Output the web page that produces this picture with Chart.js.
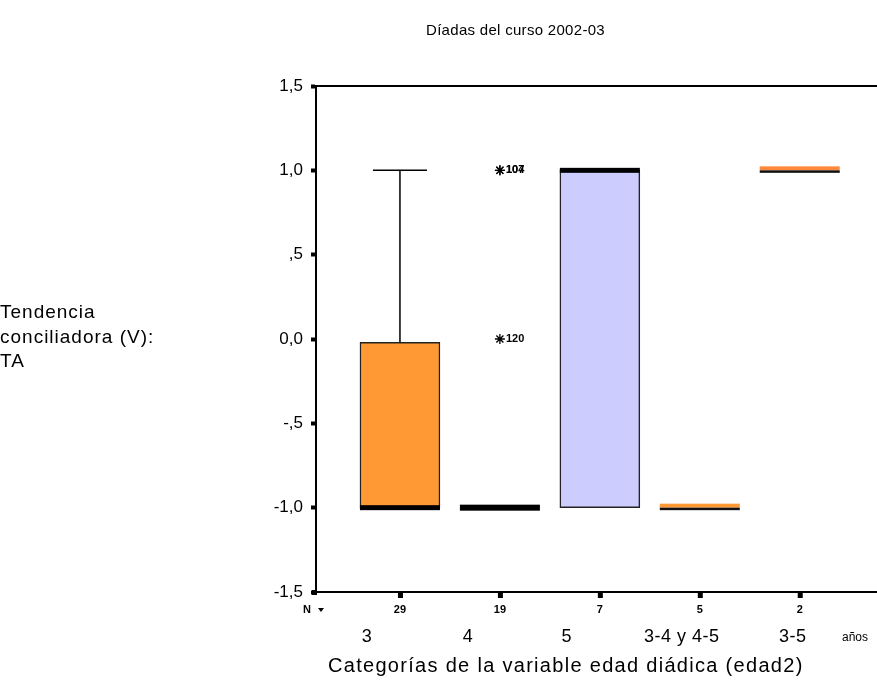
<!DOCTYPE html>
<html>
<head>
<meta charset="utf-8">
<script src="https://cdn.jsdelivr.net/npm/chart.js@4/dist/chart.umd.min.js"></script>
<style>
  html, body { margin: 0; padding: 0; background: #ffffff; }
  #wrap { width: 877px; height: 689px; }
</style>
</head>
<body>
<div id="wrap"><canvas id="chart" width="877" height="689"></canvas></div>
<script>
// Age-dyad groups (edad2) and their sample sizes
const groups = ['3', '4', '5', '3-4 y 4-5', '3-5'];
const groupN = [29, 19, 7, 5, 2];

// Box-plot summaries of "Tendencia conciliadora (V): TA" per group
const q1 = [-1, -1, -1, -1, 1];
const q3 = [-0.02, -1, 1, -1, 1];
const medians = [-1, -1, 1, -1, 1];
const whiskerLow = [-1, -1, -1, -1, 1];
const whiskerHigh = [1, -1, 1, -1, 1];

// Extreme cases (group number, value, case id)
const outlierGroup = [2, 2, 2];
const outlierValue = [1, 1, 0];
const outlierCase = ['104', '107', '120'];

// Y axis ticks and their printed labels
const yTicks = [-1.5, -1, -0.5, 0, 0.5, 1, 1.5];
const yTickLabels = ['-1,5', '-1,0', '-,5', '0,0', ',5', '1,0', '1,5'];

// Styling
const boxFill = ['#ff9933', '#ff9933', '#ccccff', '#ff9933', '#ff8a3d'];
const thinMedian = [false, false, false, true, true];
const medianThick = [5, 6, 5, 2.5, 2.5];
const labelShift = [-33, -32, -33, -18, -7];
const BOX_W = 80;
const CAP_HALF = 27;
const FONT = "'Liberation Sans', Arial, sans-serif";

function setSpacing(ctx, px) {
  if ('letterSpacing' in ctx) ctx.letterSpacing = px + 'px';
}

const boxPlotExtras = {
  id: 'boxPlotExtras',
  afterDatasetsDraw(chart) {
    const { ctx, scales: { x, y } } = chart;
    ctx.save();
    groups.forEach((g, i) => {
      const cx = x.getPixelForValue(i + 1);
      const left = cx - BOX_W / 2;
      ctx.strokeStyle = '#000';
      ctx.lineWidth = 1.5;
      // upper whisker
      if (whiskerHigh[i] > q3[i]) {
        const yTop = y.getPixelForValue(whiskerHigh[i]);
        const yBox = y.getPixelForValue(q3[i]);
        ctx.beginPath();
        ctx.moveTo(cx, yBox); ctx.lineTo(cx, yTop);
        ctx.moveTo(cx - CAP_HALF, yTop); ctx.lineTo(cx + CAP_HALF, yTop);
        ctx.stroke();
      }
      // lower whisker
      if (whiskerLow[i] < q1[i]) {
        const yBot = y.getPixelForValue(whiskerLow[i]);
        const yBox = y.getPixelForValue(q1[i]);
        ctx.beginPath();
        ctx.moveTo(cx, yBox); ctx.lineTo(cx, yBot);
        ctx.moveTo(cx - CAP_HALF, yBot); ctx.lineTo(cx + CAP_HALF, yBot);
        ctx.stroke();
      }
      // median
      const ym = y.getPixelForValue(medians[i]);
      if (thinMedian[i]) {
        ctx.fillStyle = boxFill[i];
        ctx.fillRect(left, ym - 4, BOX_W, 4);
        ctx.fillStyle = '#111';
        ctx.fillRect(left, ym, BOX_W, medianThick[i]);
      } else {
        ctx.fillStyle = '#000';
        ctx.fillRect(left, ym - medianThick[i] / 2, BOX_W, medianThick[i]);
      }
    });
    // case labels beside the extreme markers
    const meta = chart.getDatasetMeta(1);
    ctx.fillStyle = '#000';
    ctx.font = `bold 11px ${FONT}`;
    ctx.textAlign = 'left';
    ctx.textBaseline = 'middle';
    meta.data.forEach((pt, k) => {
      ctx.fillText(outlierCase[k], pt.x + 6, pt.y);
    });
    ctx.restore();
  },
  afterDraw(chart) {
    const { ctx, chartArea: a, scales: { x } } = chart;
    ctx.save();
    // frame: top and bottom lines
    ctx.strokeStyle = '#000';
    ctx.lineWidth = 2;
    ctx.beginPath();
    ctx.moveTo(a.left, a.top); ctx.lineTo(877, a.top);
    ctx.moveTo(a.left, a.bottom); ctx.lineTo(877, a.bottom);
    ctx.stroke();
    // category tick marks
    ctx.fillStyle = '#000';
    ctx.fillRect(a.left - 4, a.bottom - 2, 5, 5);
    groups.forEach((g, i) => {
      const cx = x.getPixelForValue(i + 1);
      ctx.fillRect(cx - 2, a.bottom + 1, 5, 5);
    });
    // N row
    ctx.font = `bold 11px ${FONT}`;
    ctx.textBaseline = 'middle';
    ctx.textAlign = 'left';
    ctx.fillText('N', a.left - 13, 610);
    ctx.beginPath();
    ctx.moveTo(a.left + 2, 608); ctx.lineTo(a.left + 8, 608); ctx.lineTo(a.left + 5, 612);
    ctx.closePath(); ctx.fill();
    ctx.textAlign = 'center';
    groupN.forEach((n, i) => {
      ctx.fillText(String(n), x.getPixelForValue(i + 1), 610);
    });
    // group names
    ctx.font = `18px ${FONT}`;
    setSpacing(ctx, 0.5);
    groups.forEach((g, i) => {
      ctx.fillText(g, x.getPixelForValue(i + 1) + labelShift[i], 637);
    });
    setSpacing(ctx, 0);
    ctx.font = `12px ${FONT}`;
    ctx.fillText('años', 855, 638);
    // axis titles
    ctx.font = `20px ${FONT}`;
    ctx.textAlign = 'left';
    setSpacing(ctx, 1.3);
    ctx.fillText('Categorías de la variable edad diádica (edad2)', 328, 666);
    ctx.font = `19px ${FONT}`;
    setSpacing(ctx, 1);
    ctx.fillText('Tendencia', 0, 313);
    ctx.fillText('conciliadora (V):', 0, 338);
    ctx.fillText('TA', 0, 362);
    // chart title
    ctx.font = `15px ${FONT}`;
    setSpacing(ctx, 0.3);
    ctx.fillText('Díadas del curso 2002-03', 426, 31);
    ctx.restore();
  }
};

new Chart(document.getElementById('chart'), {
  type: 'bar',
  data: {
    datasets: [
      {
        type: 'bar',
        data: groups.map((g, i) => ({ x: i + 1, y: [q1[i], q3[i]] })),
        backgroundColor: boxFill,
        borderColor: '#222',
        borderWidth: 1.5,
        borderSkipped: false,
        barThickness: BOX_W,
        grouped: false
      },
      {
        type: 'scatter',
        data: outlierValue.map((v, k) => ({ x: outlierGroup[k], y: v })),
        pointStyle: 'star',
        radius: 5,
        borderColor: '#000',
        backgroundColor: '#000',
        borderWidth: 1.3
      }
    ]
  },
  options: {
    responsive: false,
    animation: false,
    devicePixelRatio: 1,
    layout: { padding: { left: 0, right: 0, top: 86, bottom: 97 } },
    plugins: { legend: { display: false }, tooltip: { enabled: false } },
    scales: {
      x: {
        type: 'linear',
        min: 0.16,
        max: 5.71,
        offset: false,
        ticks: { display: false },
        grid: { display: false, drawTicks: false },
        border: { display: false },
        afterFit(scale) { scale.height = 0; }
      },
      y: {
        min: -1.5,
        max: 1.5,
        afterFit(scale) { scale.width = 316; },
        afterBuildTicks(scale) { scale.ticks = yTicks.map(v => ({ value: v })); },
        ticks: {
          color: '#000',
          padding: 8,
          font: { family: FONT, size: 17 },
          callback(value) {
            const k = yTicks.indexOf(value);
            return k >= 0 ? yTickLabels[k] : '';
          }
        },
        grid: {
          drawOnChartArea: false,
          drawTicks: true,
          tickLength: 5,
          tickWidth: 4,
          tickColor: '#000'
        },
        border: { display: true, color: '#000', width: 2 }
      }
    }
  },
  plugins: [boxPlotExtras]
});
</script>
</body>
</html>
